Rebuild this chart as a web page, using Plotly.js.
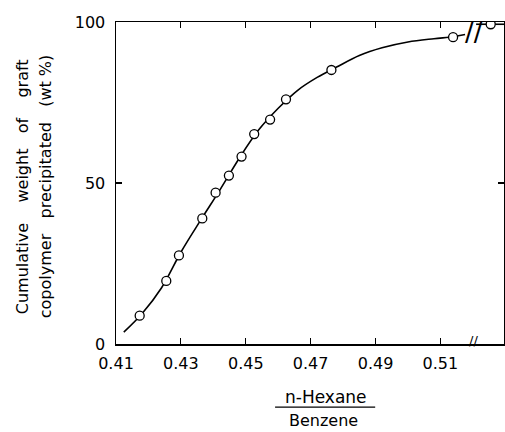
<!DOCTYPE html>
<html>
<head>
<meta charset="utf-8">
<script src="https://cdn.plot.ly/plotly-3.0.1.min.js"></script>
<style>html,body{margin:0;padding:0;background:#fff;}#chart{width:505px;height:432px;}</style>
</head>
<body>
<div id="chart"></div>
<script>
// measured data points (n-Hexane/Benzene ratio, cumulative wt %)
const pointsX = [0.4173, 0.4255, 0.4294, 0.4366, 0.4407, 0.4448, 0.4487, 0.4526, 0.4575, 0.4624, 0.4764, 0.5139, 0.5255];
const pointsY = [8.8, 19.6, 27.5, 39.0, 47.0, 52.3, 58.2, 65.2, 69.7, 76.0, 85.1, 95.3, 99.3];

// hand-drawn smooth curve, before the axis break
const curveX = [0.4124, 0.418, 0.424, 0.430, 0.436, 0.442, 0.448, 0.454, 0.460, 0.466, 0.472, 0.478, 0.485, 0.492, 0.500, 0.508, 0.514, 0.5176];
const curveY = [3.7, 9.4, 17.4, 28.5, 38.3, 47.8, 57.7, 66.5, 73.2, 78.8, 82.8, 86.0, 89.6, 92.0, 93.8, 94.8, 95.4, 96.1];

// segment after the break
const tailX = [0.5210, 0.5296];
const tailY = [99.3, 99.3];

const xTickVals = [0.41, 0.43, 0.45, 0.47, 0.49, 0.51];
const xTickText = ["0.41", "0.43", "0.45", "0.47", "0.49", "0.51"];
const yTickVals = [0, 50, 100];
const yTickText = ["0", "50", "100"];
const breakX = 0.5194;

const FONT = "DejaVu Sans, sans-serif";
const s3 = "\u00A0\u00A0\u00A0";
const s4 = "\u00A0\u00A0\u00A0\u00A0";

const traces = [
  {x: curveX, y: curveY, mode: "lines", line: {color: "#000", width: 1.6, shape: "spline", smoothing: 1}, hoverinfo: "skip"},
  {x: tailX, y: tailY, mode: "lines", line: {color: "#000", width: 1.6}, hoverinfo: "skip"},
  {x: pointsX, y: pointsY, mode: "markers", marker: {symbol: "circle", size: 9, color: "#fff", line: {color: "#000", width: 1.3}}}
];

const axisCommon = {
  showgrid: false, zeroline: false, showline: true, linecolor: "#000", linewidth: 1.5,
  ticks: "inside", ticklen: 6, tickwidth: 1.2, tickcolor: "#000", mirror: "ticks",
  tickfont: {family: FONT, size: 16, color: "#000"}
};

const layout = {
  width: 505, height: 432,
  margin: {l: 116, r: 1, t: 22, b: 88},
  paper_bgcolor: "#fff", plot_bgcolor: "#fff",
  showlegend: false,
  font: {family: FONT, color: "#000"},
  xaxis: Object.assign({}, axisCommon, {range: [0.41, 0.5296], tickvals: xTickVals, ticktext: xTickText, ticklabelstandoff: 4}),
  yaxis: Object.assign({}, axisCommon, {range: [0, 100], tickvals: yTickVals, ticktext: yTickText, ticklabelstandoff: 6}),
  annotations: [
    {text: "Cumulative" + s4 + "weight" + s3 + "of" + s4 + "graft", xref: "paper", yref: "paper", x: -0.2423, y: 0.49, textangle: -90, showarrow: false, xanchor: "center", yanchor: "middle", font: {family: FONT, size: 16}},
    {text: "copolymer" + s3 + "precipitated" + s3 + "(wt\u00A0%)", xref: "paper", yref: "paper", x: -0.183, y: 0.49, textangle: -90, showarrow: false, xanchor: "center", yanchor: "middle", font: {family: FONT, size: 16}},
    {text: "n-Hexane", xref: "paper", yref: "paper", x: 0.541, y: -0.165, showarrow: false, xanchor: "center", yanchor: "middle", font: {family: FONT, size: 17}},
    {text: "Benzene", xref: "paper", yref: "paper", x: 0.536, y: -0.237, showarrow: false, xanchor: "center", yanchor: "middle", font: {family: FONT, size: 16}},
    {text: "//", xref: "x", yref: "y", x: breakX, y: 96.8, xshift: 3, showarrow: false, font: {family: FONT, size: 26}},
    {text: "//", xref: "x", yref: "y", x: breakX, y: 1.2, xshift: 3, showarrow: false, font: {family: FONT, size: 13}}
  ],
  shapes: [
    {type: "line", xref: "paper", yref: "paper", x0: 0.41, x1: 0.668, y0: -0.196, y1: -0.196, line: {color: "#000", width: 1.2}}
  ]
};

Plotly.newPlot("chart", traces, layout, {staticPlot: true, displayModeBar: false});
</script>
</body>
</html>
